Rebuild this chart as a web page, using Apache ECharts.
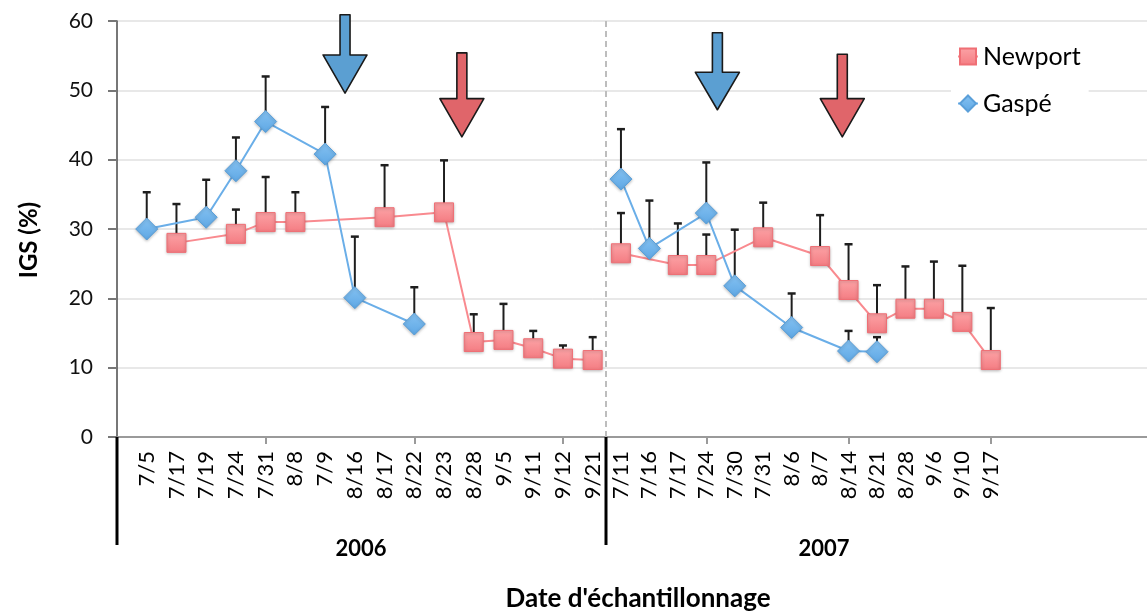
<!DOCTYPE html>
<html>
<head>
<meta charset="utf-8">
<script src="https://cdn.jsdelivr.net/npm/echarts@6/dist/echarts.min.js"></script>
<style>
  html, body { margin: 0; padding: 0; background: #fff; }
  #chart { width: 1147px; height: 613px; }
</style>
</head>
<body>
<div id="chart"></div>
<script>
// Sampling dates, one panel per year
const dates2006 = ['7/5', '7/17', '7/19', '7/24', '7/31', '8/8', '7/9', '8/16', '8/17', '8/22', '8/23', '8/28', '9/5', '9/11', '9/12', '9/21'];
const dates2007 = ['7/11', '7/16', '7/17', '7/24', '7/30', '7/31', '8/6', '8/7', '8/14', '8/21', '8/28', '9/6', '9/10', '9/17'];
const years = ['2006', '2007'];

// Gonadosomatic index (IGS, %) and upper error (SD)
const newport2006    = [null, 28.0, null, 29.3, 31.0, 31.0, null, null, 31.7, null, 32.4, 13.7, 14.0, 12.8, 11.3, 11.1];
const newport2006Err = [null,  5.6, null,  3.5,  6.5,  4.3, null, null,  7.5, null,  7.5,  4.0,  5.2,  2.5,  1.9,  3.3];
const gaspe2006      = [30.0, null, 31.7, 38.4, 45.5, null, 40.8, 20.1, null, 16.3, null, null, null, null, null, null];
const gaspe2006Err   = [ 5.3, null,  5.4,  4.8,  6.5, null,  6.8,  8.8, null,  5.3, null, null, null, null, null, null];

const newport2007    = [26.5, null, 24.8, 24.8, null, 28.8, null, 26.1, 21.2, 16.4, 18.5, 18.5, 16.6, 11.1];
const newport2007Err = [ 5.8, null,  6.0,  4.4, null,  5.0, null,  5.9,  6.6,  5.5,  6.1,  6.8,  8.1,  7.5];
const gaspe2007      = [37.2, 27.2, null, 32.3, 21.8, null, 15.8, null, 12.4, 12.3, null, null, null, null];
const gaspe2007Err   = [ 7.2,  6.9, null,  7.3,  8.1, null,  4.9, null,  2.9,  2.1, null, null, null, null];

// Y scale
const yMin = 0, yMax = 60, yStep = 10;

// Spawning-period arrows: [panel, date before, date after, fraction, shaft top, head start, tip, site]
const spawnArrows = [
  [0, '7/9',  '8/16', 0.67, 60.9, 55.1, 49.6, 'Gaspé'],
  [0, '8/23', '8/28', 0.60, 55.4, 48.8, 43.3, 'Newport'],
  [1, '7/24', '7/30', 0.39, 58.3, 52.6, 47.2, 'Gaspé'],
  [1, '8/7',  '8/14', 0.78, 55.2, 48.8, 43.3, 'Newport']
];

// ---- layout and styles ----
const FONT = 'Lato, "Liberation Sans", Arial, sans-serif';
const TOP = 21, BOTTOM_Y = 437;
const LEFT = 117;
const STEP06 = 29.73, STEP07 = 28.45;
const LEFT07 = 592.5;
const TRAIL07 = 6;     // empty slots after the last 2007 date
const DIVIDER_X = 606;
const C_NEW = '#f98a8f', C_GAS = '#6aaee8';

const axis06 = [''].concat(dates2006);
const axis07 = [''].concat(dates2007, new Array(TRAIL07).fill(''));
const pad = arr => [null].concat(arr);

function barData(vals, errs) {
  const out = [];
  vals.forEach((v, i) => { if (v != null && errs[i] != null) out.push([i + 1, v, v + errs[i]]); });
  return out;
}

function renderErrorBar(params, api) {
  const x = api.value(0);
  const base = api.coord([x, api.value(1)]);
  const top = api.coord([x, api.value(2)]);
  const cap = 4;
  return {
    type: 'group',
    children: [
      { type: 'line', shape: { x1: base[0], y1: base[1], x2: top[0], y2: top[1] },
        style: { stroke: '#1e1e1e', lineWidth: 2 } },
      { type: 'line', shape: { x1: top[0] - cap, y1: top[1], x2: top[0] + cap, y2: top[1] },
        style: { stroke: '#1e1e1e', lineWidth: 2.5 } }
    ]
  };
}

const newportStyle = {
  color: new echarts.graphic.LinearGradient(0, 0, 0, 1, [
    { offset: 0, color: '#fca3a6' }, { offset: 1, color: '#f47c82' }
  ]),
  borderColor: '#ef6f75', borderWidth: 1,
  shadowColor: 'rgba(0,0,0,0.25)', shadowBlur: 3, shadowOffsetY: 1
};
const gaspeStyle = {
  color: new echarts.graphic.LinearGradient(0, 0, 0, 1, [
    { offset: 0, color: '#85c2f2' }, { offset: 1, color: '#5ea7e4' }
  ]),
  borderColor: '#5a9fd9', borderWidth: 1,
  shadowColor: 'rgba(0,0,0,0.25)', shadowBlur: 3, shadowOffsetY: 1
};

function lineSeries(name, data, gi, isNewport) {
  return {
    name, type: 'line', xAxisIndex: gi, yAxisIndex: gi,
    data, connectNulls: true, z: 3,
    symbol: isNewport ? 'rect' : 'diamond',
    symbolSize: isNewport ? 19 : 22,
    lineStyle: { color: isNewport ? C_NEW : C_GAS, width: 2 },
    itemStyle: isNewport ? newportStyle : gaspeStyle
  };
}
function errSeries(name, data, gi) {
  return {
    name, type: 'custom', xAxisIndex: gi, yAxisIndex: gi, z: 2,
    renderItem: renderErrorBar, data, encode: { x: 0, y: [1, 2] }, silent: true
  };
}

const xAxisBase = {
  type: 'category', boundaryGap: false,
  axisLine: { show: true, lineStyle: { color: '#9a9a9a', width: 2 } },
  axisLabel: { interval: 0, rotate: 90, fontSize: 22, color: '#000', fontFamily: FONT, margin: 14 },
  splitLine: { show: false }
};

const chart = echarts.init(document.getElementById('chart'));
chart.setOption({
  animation: false,
  backgroundColor: '#fff',
  grid: [
    { left: LEFT, top: TOP, width: STEP06 * (axis06.length - 1), bottom: 613 - BOTTOM_Y,
      containLabel: false, outerBoundsMode: 'none' },
    { left: LEFT07, top: TOP, width: STEP07 * (axis07.length - 1), bottom: 613 - BOTTOM_Y,
      containLabel: false, outerBoundsMode: 'none' }
  ],
  legend: {
    data: ['Newport', 'Gaspé'],
    orient: 'vertical', left: 951, top: 36,
    itemWidth: 20, itemHeight: 20, itemGap: 22,
    padding: [8, 8, 8, 6],
    backgroundColor: '#fff',
    textStyle: { fontSize: 25, color: '#000', fontFamily: FONT }
  },
  xAxis: [
    Object.assign({}, xAxisBase, {
      gridIndex: 0, data: axis06,
      axisTick: { show: true, length: 7, lineStyle: { color: '#9a9a9a', width: 2 },
                  interval: i => i > 0 && i % 5 === 0 }
    }),
    Object.assign({}, xAxisBase, {
      gridIndex: 1, data: axis07,
      axisTick: { show: true, length: 7, lineStyle: { color: '#9a9a9a', width: 2 },
                  interval: i => i >= 4 && i <= dates2007.length && (i - 4) % 5 === 0 }
    })
  ],
  yAxis: [
    {
      gridIndex: 0, type: 'value', min: yMin, max: yMax, interval: yStep,
      axisLine: { show: true, lineStyle: { color: '#4a4a4a', width: 1.5 } },
      axisTick: { show: true, length: 9, lineStyle: { color: '#777', width: 2 } },
      axisLabel: { fontSize: 21, color: '#111', fontFamily: FONT, margin: 24 },
      splitLine: { show: true, lineStyle: { color: '#e8e8e8', width: 2 } }
    },
    {
      gridIndex: 1, type: 'value', min: yMin, max: yMax, interval: yStep,
      axisLine: { show: false }, axisTick: { show: false }, axisLabel: { show: false },
      splitLine: { show: true, lineStyle: { color: '#e8e8e8', width: 2 } }
    }
  ],
  series: [
    errSeries('err-n06', barData(newport2006, newport2006Err), 0),
    errSeries('err-g06', barData(gaspe2006, gaspe2006Err), 0),
    errSeries('err-n07', barData(newport2007, newport2007Err), 1),
    errSeries('err-g07', barData(gaspe2007, gaspe2007Err), 1),
    lineSeries('Newport', pad(newport2006), 0, true),
    lineSeries('Gaspé', pad(gaspe2006), 0, false),
    lineSeries('Newport', pad(newport2007), 1, true),
    lineSeries('Gaspé', pad(gaspe2007), 1, false)
  ]
});

// Annotations: panel dividers, year labels, axis titles, spawning arrows
function px(gi, idx, v) {
  return chart.convertToPixel({ xAxisIndex: gi, yAxisIndex: gi }, [idx, v]);
}
const graphics = [];

// dashed separator between the two years
graphics.push({
  type: 'line', z: 1,
  shape: { x1: DIVIDER_X, y1: TOP, x2: DIVIDER_X, y2: BOTTOM_Y },
  style: { stroke: '#bdbdbd', lineWidth: 2, lineDash: [6, 4] }
});
// group brackets below the axis
[LEFT, DIVIDER_X].forEach(x => graphics.push({
  type: 'line', z: 10,
  shape: { x1: x, y1: BOTTOM_Y, x2: x, y2: 545 },
  style: { stroke: '#000', lineWidth: 3 }
}));
// year labels
[[years[0], 361], [years[1], 824]].forEach(([t, x]) => graphics.push({
  type: 'text', x, y: 549,
  style: { text: t, fontSize: 22, fontWeight: 'bold', fill: '#000', fontFamily: FONT,
           textAlign: 'center', textVerticalAlign: 'middle' }
}));
// axis titles
graphics.push({
  type: 'text', x: 638, y: 599,
  style: { text: "Date d'échantillonnage", fontSize: 26, fontWeight: 'bold', fill: '#000',
           fontFamily: FONT, textAlign: 'center', textVerticalAlign: 'middle' }
});
graphics.push({
  type: 'text', x: 29, y: 240, rotation: Math.PI / 2,
  style: { text: 'IGS (%)', fontSize: 24, fontWeight: 'bold', fill: '#000',
           fontFamily: FONT, textAlign: 'center', textVerticalAlign: 'middle' }
});
// spawning arrows
spawnArrows.forEach(([gi, d0, d1, f, top, neck, tip, site]) => {
  const dates = gi === 0 ? dates2006 : dates2007;
  const i0 = dates.indexOf(d0) + 1, i1 = dates.indexOf(d1) + 1;
  const a = px(gi, i0, top), b = px(gi, i1, top);
  const cx = a[0] + (b[0] - a[0]) * f;
  const yTop = a[1];
  const yNeck = px(gi, i0, neck)[1];
  const yTip = px(gi, i0, tip)[1];
  const sw = 5, hw = 22;
  graphics.push({
    type: 'polygon', z: 20,
    shape: { points: [
      [cx - sw, yTop], [cx + sw, yTop], [cx + sw, yNeck], [cx + hw, yNeck],
      [cx, yTip], [cx - hw, yNeck], [cx - sw, yNeck]
    ] },
    style: { fill: site === 'Newport' ? '#e0656a' : '#5b9fd2', stroke: '#1a1a1a',
             lineWidth: 1.6, lineJoin: 'round' }
  });
});
chart.setOption({ graphic: graphics });
</script>
</body>
</html>
